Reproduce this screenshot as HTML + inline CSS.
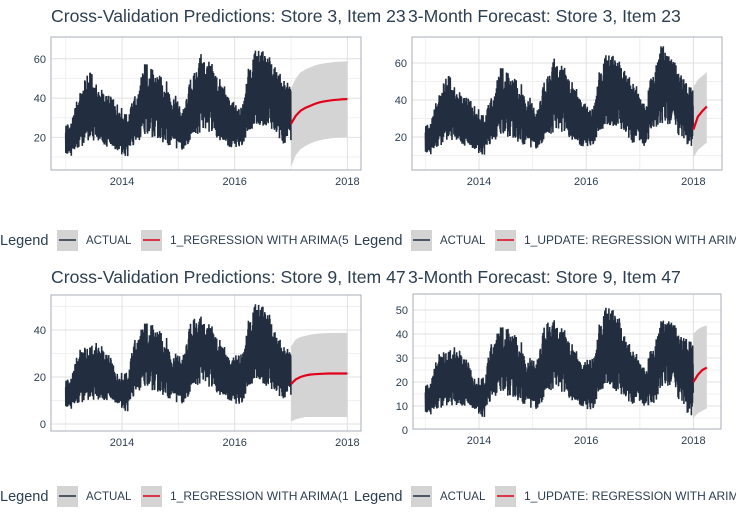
<!DOCTYPE html>
<html><head><meta charset="utf-8">
<style>
body{margin:0;width:736px;height:531px;background:#fff;overflow:hidden;font-family:"Liberation Sans",sans-serif;color:#2c3e50}
svg{position:absolute;left:0;top:0}
</style></head><body>
<svg id="chart" width="736" height="531"></svg>
<script>
// 2-month bins starting Jan 2013: low/high daily sales
const s3Low  = [10,15,18,18,15,12, 10,17,20,20,17,14, 13,20,22,22,18,15, 14,22,25,25,20,15];
const s3High = [28,43,54,46,42,38, 32,42,59,54,50,42, 35,52,63,58,50,40, 35,55,68,62,55,48];
const s3Low17  = [15,24,27,26,20,15];
const s3High17 = [38,55,70,65,55,48];
const s9Low  = [6,9,10,10,10,8, 5,13,15,14,12,9, 8,15,17,15,12,10, 7,15,18,15,12,10];
const s9High = [20,32,33,35,30,22, 22,37,44,42,38,30, 30,45,46,42,36,28, 30,44,54,48,38,32];
const s9Low17  = [10,10,18,18,12,6];
const s9High17 = [26,35,46,47,40,38];
// monthly forecasts (index 0 = start)
const cv3Mean=[27,31,33.5,35,36,37,37.8,38.3,38.7,39,39.2,39.4,39.5];
const cv3Lo=[5,11,14,15.5,16.8,17.8,18.5,19,19.4,19.7,19.9,20,20.2];
const cv3Hi=[45,50,53,54.5,55.6,56.5,57.2,57.7,58,58.3,58.5,58.6,58.7];
const fc3Mean=[24,31,34,36.5];
const fc3Lo=[9,13,15,17];
const fc3Hi=[47,51,53,55];
const cv9Mean=[17,19,20,20.6,21,21.2,21.3,21.4,21.5,21.5,21.5,21.5,21.5];
const cv9Lo=[1,2,2.5,3,3,3,3,3,3,3,3,3,3];
const cv9Hi=[33,36,37,37.5,38,38.3,38.5,38.6,38.7,38.8,38.8,38.8,38.8];
const fc9Mean=[20,23,25,26];
const fc9Lo=[5,7,8,9];
const fc9Hi=[40,42,43,43.5];
const xTicks=[2014,2016,2018];

const NS="http://www.w3.org/2000/svg";
const svg=document.getElementById('chart');
function el(tag,attrs,parent){const e=document.createElementNS(NS,tag);for(const k in attrs)e.setAttribute(k,attrs[k]);(parent||svg).appendChild(e);return e;}

const panels=[
 {name:'cv-store3',title:'Cross-Validation Predictions: Store 3, Item 23',tx:51,ty:22,box:[51,37,361,170],x2014:122,pxYear:56.35,y0:176.7,pxUnit:1.965,yTicks:[20,40,60],yMinor:[10,30,50],
  lo:s3Low,hi:s3High,fMean:cv3Mean,fLo:cv3Lo,fHi:cv3Hi,fStart:2017,legX:0,legY:240,label:'1_REGRESSION WITH ARIMA(5'},
 {name:'fc-store3',title:'3-Month Forecast: Store 3, Item 23',tx:408,ty:22,box:[412,37,722,170],x2014:479,pxYear:53.6,y0:174,pxUnit:1.85,yTicks:[20,40,60],yMinor:[10,30,50],
  lo:s3Low.concat(s3Low17),hi:s3High.concat(s3High17),fMean:fc3Mean,fLo:fc3Lo,fHi:fc3Hi,fStart:2018,legX:354,legY:240,label:'1_UPDATE: REGRESSION WITH ARIMA'},
 {name:'cv-store9',title:'Cross-Validation Predictions: Store 9, Item 47',tx:51,ty:283,box:[51,295,361,431],x2014:122,pxYear:56.35,y0:424,pxUnit:2.35,yTicks:[0,20,40],yMinor:[10,30,50],
  lo:s9Low,hi:s9High,fMean:cv9Mean,fLo:cv9Lo,fHi:cv9Hi,fStart:2017,legX:0,legY:496,label:'1_REGRESSION WITH ARIMA(1'},
 {name:'fc-store9',title:'3-Month Forecast: Store 9, Item 47',tx:408,ty:283,box:[413,294,721,429],x2014:479,pxYear:53.6,y0:430,pxUnit:2.4,yTicks:[0,10,20,30,40,50],yMinor:[5,15,25,35,45],
  lo:s9Low.concat(s9Low17),hi:s9High.concat(s9High17),fMean:fc9Mean,fLo:fc9Lo,fHi:fc9Hi,fStart:2018,legX:354,legY:496,label:'1_UPDATE: REGRESSION WITH ARIMA'}
];
// deterministic visual texture (jitter inside the read envelope)
const tx=k=>{const s=Math.sin(k*12.9898+78.233)*43758.5453;return s-Math.floor(s);};

panels.forEach(p=>{
  const g=el('g',{});
  
  
  const xs=t=>p.x2014+(t-2014)*p.pxYear;
  const ys=v=>p.y0-v*p.pxUnit;
  const [L,T,R,B]=p.box;
  const clip=el('clipPath',{id:'c'+p.name},g);el('rect',{x:L,y:T,width:R-L,height:B-T},clip);
  const grid=el('g',{'clip-path':'url(#c'+p.name+')'},g);
  p.yMinor.forEach(v=>el('line',{x1:L,x2:R,y1:ys(v),y2:ys(v),stroke:'#f0f0f0','stroke-width':1},grid));
  [2013,2015,2017].forEach(v=>el('line',{x1:xs(v),x2:xs(v),y1:T,y2:B,stroke:'#f0f0f0','stroke-width':1},grid));
  p.yTicks.forEach(v=>{el('line',{x1:L,x2:R,y1:ys(v),y2:ys(v),stroke:'#e0e0e0','stroke-width':1},grid);
    const t=el('text',{x:L-5,y:ys(v)+4,'text-anchor':'end','font-size':11,fill:'#2c3e50'},g);t.textContent=v;});
  xTicks.forEach(v=>{el('line',{x1:xs(v),x2:xs(v),y1:T,y2:B,stroke:'#e0e0e0','stroke-width':1},grid);
    const t=el('text',{x:xs(v),y:B+15,'text-anchor':'middle','font-size':11,fill:'#2c3e50'},g);t.textContent=v;});
  // forecast band
  const n=p.fMean.length-1, span=p.fStart===2017?1:0.25;
  const ft=i=>p.fStart+i*span/n;
  let pts=p.fHi.map((v,i)=>xs(ft(i))+','+ys(v));
  pts=pts.concat(p.fLo.map((v,i)=>[xs(ft(i)),ys(v)]).reverse().map(a=>a.join(',')));
  const band=el('polygon',{points:pts.join(' '),fill:'#d4d4d4'},grid);
  
  
  // actual series zigzag with smooth envelope
  const bw=1/6, nb=p.lo.length;
  const env=(arr,t)=>{let u=(t-2013)/bw-0.5;if(u<0)u=0;if(u>nb-1)u=nb-1;const i=Math.floor(u),f=u-i;const j=Math.min(i+1,nb-1);const w=(1-Math.cos(f*Math.PI))/2;return arr[i]*(1-w)+arr[j]*w;};
  let d='';const steps=nb*24;
  for(let k=0;k<steps;k++){
    const t=2013+k*(nb*bw)/steps;
    const lo=env(p.lo,t),hi=env(p.hi,t),mid=(lo+hi)/2;
    const a=tx(k), b=tx(k+5000);
    const hv=mid+(hi-mid)*(0.3+0.7*Math.pow(a,1.3)), lv=mid-(mid-lo)*(0.3+0.7*Math.pow(b,1.3));
    d+=(k?'L':'M')+xs(t).toFixed(1)+','+ys(hv).toFixed(1)+'L'+xs(t+nb*bw/steps/2).toFixed(1)+','+ys(lv).toFixed(1);
  }
  const act=el('path',{d:d,fill:'none',stroke:'#222e3f','stroke-width':1.6,'stroke-linejoin':'bevel'},grid);
  
  
  const fm=el('polyline',{points:p.fMean.map((v,i)=>xs(ft(i))+','+ys(v)).join(' '),fill:'none',stroke:'#e3001b','stroke-width':2.2},grid);
  
  
  el('rect',{x:L,y:T,width:R-L,height:B-T,fill:'none',stroke:'#a7adb5','stroke-width':1},g);
  const tt=el('text',{x:p.tx,y:p.ty,'font-size':17.6,fill:'#2c3e50'},svg);tt.textContent=p.title;
  
  
  // legend
  const lg=el('g',{},svg);
  
  
  const x0=p.legX,y=p.legY;
  el('text',{x:x0,y:y+5,'font-size':14.5,fill:'#2c3e50'},lg).textContent='Legend';
  el('rect',{x:x0+57,y:y-10,width:21,height:21,fill:'#d4d4d4'},lg);
  el('line',{x1:x0+59,x2:x0+76,y1:y,y2:y,stroke:'#222e3f','stroke-width':1.5},lg);
  el('text',{x:x0+86,y:y+4,'font-size':11.5,fill:'#2c3e50'},lg).textContent='ACTUAL';
  el('rect',{x:x0+141,y:y-10,width:21,height:21,fill:'#d4d4d4'},lg);
  el('line',{x1:x0+143,x2:x0+160,y1:y,y2:y,stroke:'#e3001b','stroke-width':1.5},lg);
  el('text',{x:x0+170,y:y+4,'font-size':12,fill:'#2c3e50'},lg).textContent=p.label;
});
</script>
</body></html>
